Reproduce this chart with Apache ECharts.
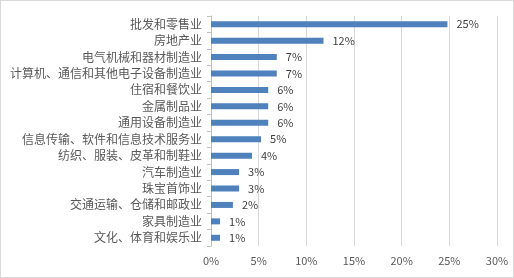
<!DOCTYPE html>
<html><head><meta charset="utf-8">
<script src="https://cdn.jsdelivr.net/npm/echarts@6/dist/echarts.min.js"></script>
<style>html,body{margin:0;padding:0;background:#fff}#c{width:512px;height:276px;border:1px solid #d9d9d9}</style>
</head><body><div id="c"></div>
<script>
const categories = ['批发和零售业','房地产业','电气机械和器材制造业','计算机、通信和其他电子设备制造业','住宿和餐饮业','金属制品业','通用设备制造业','信息传输、软件和信息技术服务业','纺织、服装、皮革和制鞋业','汽车制造业','珠宝首饰业','交通运输、仓储和邮政业','家具制造业','文化、体育和娱乐业'];
const shares = [24.8, 11.8, 6.9, 6.9, 6.0, 6.0, 6.0, 5.25, 4.3, 2.95, 2.95, 2.3, 0.95, 0.95];
const axisTicks = [0, 5, 10, 15, 20, 25, 30];
const chart = echarts.init(document.getElementById('c'));
const font = "'Noto Sans CJK SC', 'Noto Sans', sans-serif";
chart.setOption({
  animation: false,
  textStyle: {fontFamily: font},
  grid: {left: 210, right: 16, top: 15, bottom: 31, containLabel: false},
  xAxis: {
    type: 'value', min: axisTicks[0], max: axisTicks[axisTicks.length-1], interval: 5,
    axisLine: {show: false}, axisTick: {show: false},
    splitLine: {lineStyle: {color: '#d9d9d9', width: 1}},
    axisLabel: {formatter: '{value}%', color: '#595959', fontSize: 11, margin: 9, fontFamily: font}
  },
  yAxis: {
    type: 'category', data: categories, inverse: true,
    axisLine: {lineStyle: {color: '#bfbfbf'}},
    axisTick: {show: true, length: 4, lineStyle: {color: '#bfbfbf'}},
    axisLabel: {color: '#595959', fontSize: 12, margin: 9, fontFamily: font}
  },
  series: [{
    type: 'bar', data: shares, barWidth: 6,
    itemStyle: {color: '#4f81bd'},
    label: {show: true, position: 'right', distance: 9, color: '#404040', fontSize: 11, fontFamily: font,
      formatter: p => Math.round(p.value) + '%'}
  }]
});
</script></body></html>
